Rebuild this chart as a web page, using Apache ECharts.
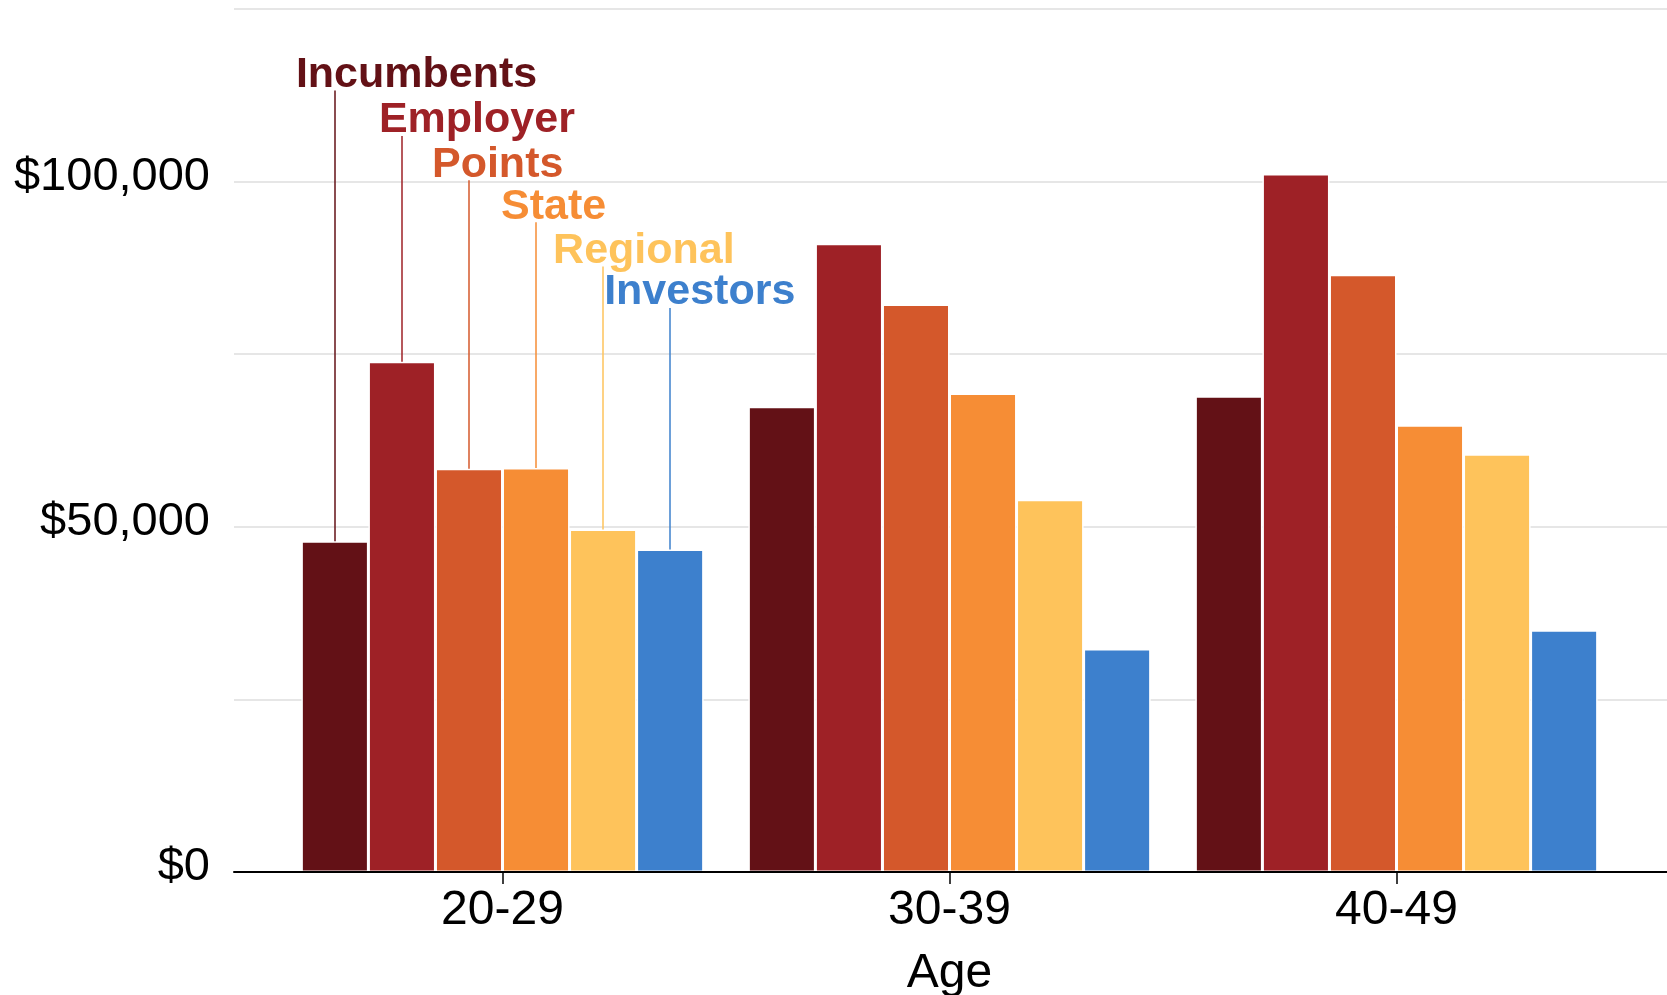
<!DOCTYPE html>
<html>
<head>
<meta charset="utf-8">
<script src="https://cdn.jsdelivr.net/npm/echarts@6/dist/echarts.min.js"></script>
<style>
  html, body { margin: 0; padding: 0; background: #fff; }
  #chart { width: 1667px; height: 995px; }
</style>
</head>
<body>
<div id="chart"></div>
<script>
const categories = ['20-29', '30-39', '40-49'];
const seriesNames = ['Incumbents', 'Employer', 'Points', 'State', 'Regional', 'Investors'];

const incumbents = [47900, 67400, 68900];
const employer = [73900, 91000, 101100];
const points = [58400, 82200, 86500];
const state = [58500, 69300, 64700];
const regional = [49600, 53900, 60500];
const investors = [46700, 32300, 35000];

const yTickLabels = [0, 50000, 100000];

// where the callout lines of the first group end, and how far each name sits left of its line
const calloutLevel = [113200, 106600, 100200, 94100, 87700, 81700];
const calloutShift = [-39, -23, -37, -35, -50, -66];

const colors = ['#631116', '#9e2126', '#d4582b', '#f68d35', '#fec35b', '#3d80cd'];
const values = [incumbents, employer, points, state, regional, investors];
const font = '"Liberation Sans", Arial, Helvetica, sans-serif';

const chart = echarts.init(document.getElementById('chart'));

const option = {
  backgroundColor: '#fff',
  animation: false,
  grid: [
    { left: 234, right: 0, top: 9, bottom: 123, outerBoundsMode: 'none' },
    { left: 279, right: 47, top: 9, bottom: 123, outerBoundsMode: 'none' }
  ],
  xAxis: [
    {
      gridIndex: 0,
      type: 'category',
      data: categories,
      z: 5,
      axisLine: { show: true, lineStyle: { color: '#000', width: 2 } },
      axisTick: { show: false },
      axisLabel: { show: false },
      splitLine: { show: false }
    },
    {
      gridIndex: 1,
      type: 'category',
      data: categories,
      axisLine: { show: false },
      axisTick: { show: true, alignWithLabel: true, length: 12, lineStyle: { color: '#000', width: 1.5 } },
      axisLabel: { color: '#000', fontSize: 48, fontFamily: font, margin: 15 },
      name: 'Age',
      nameLocation: 'middle',
      nameGap: 78,
      nameTextStyle: { color: '#000', fontSize: 48, fontFamily: font }
    }
  ],
  yAxis: [
    {
      gridIndex: 0,
      type: 'value',
      min: 0,
      max: 125000,
      interval: 25000,
      axisLine: { show: false },
      axisTick: { show: false },
      splitLine: { lineStyle: { color: '#e6e6e6', width: 2 } },
      axisLabel: {
        color: '#000',
        fontSize: 47,
        fontFamily: font,
        margin: 24,
        verticalAlign: 'bottom',
        lineHeight: 10,
        formatter: v => yTickLabels.includes(v) ? '$' + v.toLocaleString('en-US') : ''
      }
    },
    {
      gridIndex: 1,
      type: 'value',
      min: 0,
      max: 125000,
      interval: 25000,
      show: false
    }
  ],
  series: seriesNames.map((name, i) => ({
    name: name,
    type: 'bar',
    xAxisIndex: 1,
    yAxisIndex: 1,
    data: values[i],
    barGap: '0%',
    barCategoryGap: '10%',
    itemStyle: { color: colors[i], borderColor: '#fff', borderWidth: 1.5 },
    emphasis: { disabled: true },
    markLine: {
      silent: true,
      symbol: 'none',
      label: { show: false },
      lineStyle: { color: colors[i], width: 1.5, type: 'solid' },
      data: [[{ coord: [0, values[i][0]] }, { coord: [0, calloutLevel[i]] }]]
    },
    markPoint: {
      silent: true,
      symbol: 'rect',
      symbolSize: 1,
      itemStyle: { color: 'transparent' },
      label: {
        show: true,
        formatter: name,
        position: 'inside',
        align: 'left',
        verticalAlign: 'bottom',
        offset: [calloutShift[i], 6],
        color: colors[i],
        fontSize: 43,
        fontWeight: 'bold',
        fontFamily: font
      },
      data: [{ coord: [0, calloutLevel[i]] }]
    }
  }))
};

chart.setOption(option);
</script>
</body>
</html>
